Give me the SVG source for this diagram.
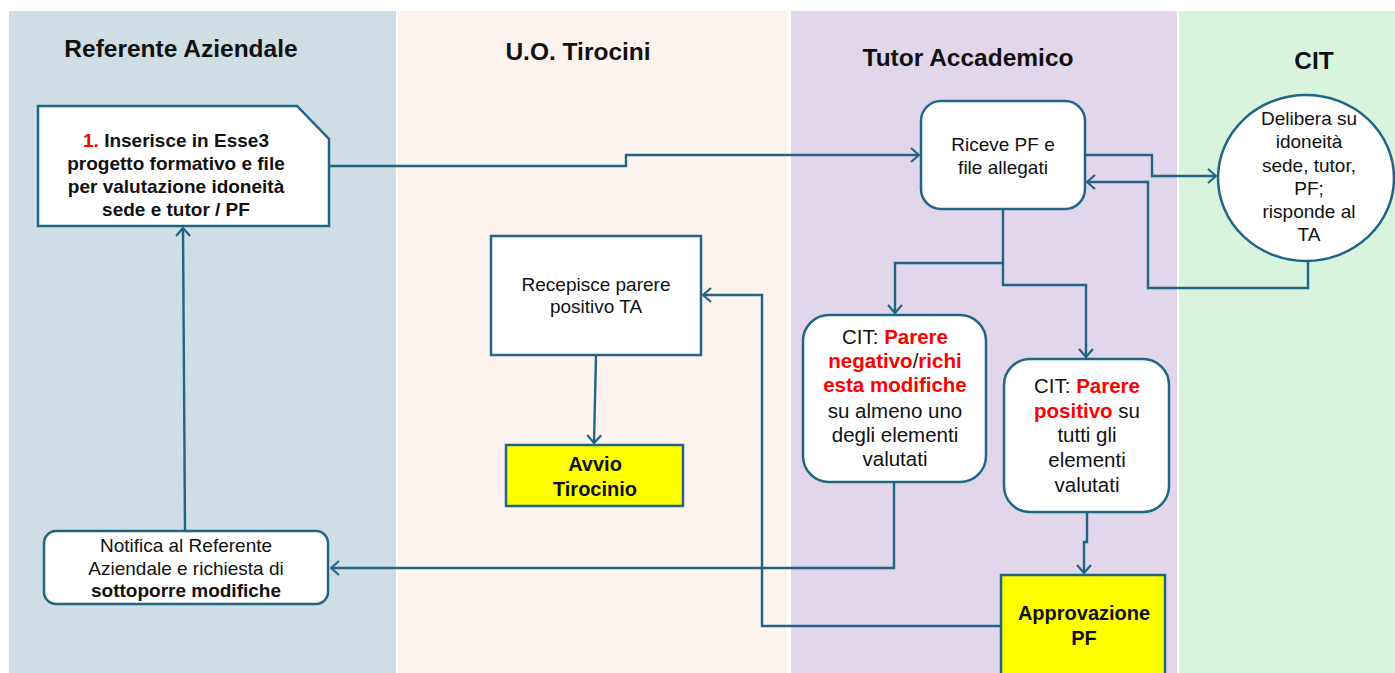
<svg xmlns="http://www.w3.org/2000/svg" width="1395" height="673" viewBox="0 0 1395 673">
<style>
text{font-family:"Liberation Sans",Arial,sans-serif;fill:#111;text-anchor:middle}
.h{font-size:24.5px;font-weight:bold}
.t{font-size:19px}
.tb{font-size:19px;font-weight:bold}
.m{font-size:20.5px}
.y{font-size:20px;font-weight:bold}
.r{fill:#f00;font-weight:bold}
.box{fill:#fff;stroke:#1f6586;stroke-width:2.5}
.ybox{fill:#ffff00;stroke:#1f6586;stroke-width:2.5}
.c path{fill:none;stroke:#1f6586;stroke-width:2.4;marker-end:url(#a)}
</style>
<defs>
<marker id="a" viewBox="0 0 10 16" refX="9" refY="8" markerWidth="10" markerHeight="16" markerUnits="userSpaceOnUse" orient="auto">
<path d="M1,1 L9,8 L1,15" fill="none" stroke="#1f6586" stroke-width="2.2"/>
</marker>
</defs>
<rect width="1395" height="673" fill="#fff"/>
<g id="lanes">
<rect x="9" y="11" width="387" height="662" fill="#cfdde4"/>
<rect x="398" y="11" width="389" height="662" fill="#fcf2ee"/>
<rect x="791" y="11" width="386" height="662" fill="#e2d6ea"/>
<rect x="1179" y="11" width="216" height="662" fill="#d9f4dd"/>
<text class="h" x="181" y="57">Referente Aziendale</text>
<text class="h" x="578" y="60">U.O. Tirocini</text>
<text class="h" x="968" y="66">Tutor Accademico</text>
<text class="h" x="1314" y="69">CIT</text>
</g>
<g class="c" id="connectors">
<path d="M330,166 H626 V155 H919"/>
<path d="M1085,155 H1152 V176 H1216"/>
<path d="M1308,262 V288 H1148 V182 H1087"/>
<path d="M1003,210 V263 H895 V313"/>
<path d="M1003,263 V285 H1086 V357"/>
<path d="M1087,512 V542 H1084 V573"/>
<path d="M1001,626 H762 V295 H703"/>
<path d="M596,356 L594,443"/>
<path d="M894,482 V568 H331"/>
<path d="M185,530 L183,228"/>
</g>
<g id="n1">
<path class="box" d="M38,106 H297 L329,139 V226 H38 Z"/>
<text class="tb" x="176" y="147"><tspan fill="#f00">1.</tspan> Inserisce in Esse3</text>
<text class="tb" x="176" y="170">progetto formativo e file</text>
<text class="tb" x="176" y="193">per valutazione idoneità</text>
<text class="tb" x="176" y="216">sede e tutor / PF</text>
</g>
<g id="n2">
<rect class="box" x="921" y="101" width="164" height="108" rx="20"/>
<text class="t" x="1003" y="151">Riceve PF e</text>
<text class="t" x="1003" y="174">file allegati</text>
</g>
<g id="n3">
<ellipse class="box" cx="1306" cy="178" rx="88" ry="83"/>
<text class="t" x="1309" y="125">Delibera su</text>
<text class="t" x="1309" y="148">idoneità</text>
<text class="t" x="1309" y="172">sede, tutor,</text>
<text class="t" x="1309" y="195">PF;</text>
<text class="t" x="1309" y="218">risponde al</text>
<text class="t" x="1309" y="241">TA</text>
</g>
<g id="n4">
<rect class="box" x="803" y="315" width="183" height="167" rx="26"/>
<text class="m" x="895" y="344">CIT: <tspan class="r">Parere</tspan></text>
<text class="m" x="895" y="368"><tspan class="r">negativo</tspan>/<tspan class="r">richi</tspan></text>
<text class="m" x="895" y="392"><tspan class="r">esta modifiche</tspan></text>
<text class="m" x="895" y="418">su almeno uno</text>
<text class="m" x="895" y="442">degli elementi</text>
<text class="m" x="895" y="466">valutati</text>
</g>
<g id="n5">
<rect class="box" x="1004" y="359" width="165" height="153" rx="26"/>
<text class="m" x="1087" y="393">CIT: <tspan class="r">Parere</tspan></text>
<text class="m" x="1087" y="418"><tspan class="r">positivo</tspan> su</text>
<text class="m" x="1087" y="442">tutti gli</text>
<text class="m" x="1087" y="467">elementi</text>
<text class="m" x="1087" y="492">valutati</text>
</g>
<g id="n6">
<rect class="ybox" x="1001" y="575" width="164" height="110"/>
<text class="y" x="1084" y="620">Approvazione</text>
<text class="y" x="1084" y="645">PF</text>
</g>
<g id="n7">
<rect class="box" x="491" y="236" width="210" height="119"/>
<text class="t" x="596" y="291">Recepisce parere</text>
<text class="t" x="596" y="313">positivo TA</text>
</g>
<g id="n8">
<rect class="ybox" x="506" y="445" width="177" height="61"/>
<text class="y" x="595" y="471">Avvio</text>
<text class="y" x="595" y="496">Tirocinio</text>
</g>
<g id="n9">
<rect class="box" x="44" y="531" width="284" height="73" rx="12"/>
<text class="t" x="186" y="552">Notifica al Referente</text>
<text class="t" x="186" y="575">Aziendale e richiesta di</text>
<text class="tb" x="186" y="597">sottoporre modifiche</text>
</g>
</svg>
